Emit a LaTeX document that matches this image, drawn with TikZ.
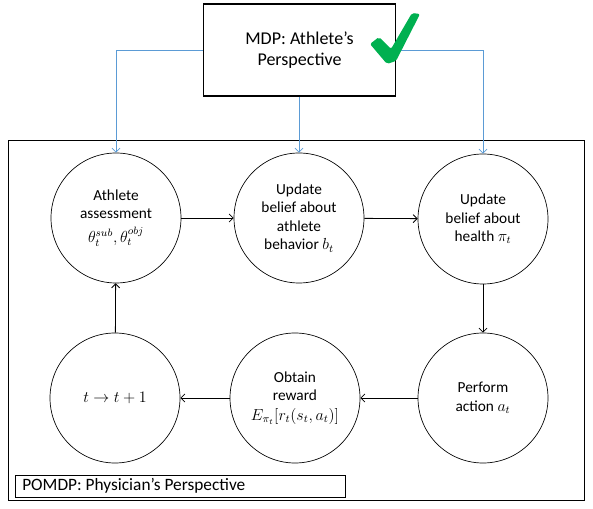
\documentclass[tikz,border=0pt]{standalone}
\usepackage{fontspec}
\setmainfont{Carlito}
\usetikzlibrary{arrows.meta}
\definecolor{bluel}{HTML}{5B9BD5}
\definecolor{checkg}{HTML}{00B050}
\begin{document}
\begin{tikzpicture}[x=0.75pt,y=-0.75pt,
  stage/.style={draw,circle,minimum size=97.5pt,inner sep=0pt,align=center,line width=0.5pt,
    font=\fontsize{11.5}{13.8}\selectfont},
  flow/.style={-{Straight Barb[length=3pt,width=6pt]},line width=0.6pt},
  mdpflow/.style={-{Straight Barb[length=3pt,width=6pt]},draw=bluel,line width=0.6pt}]
\useasboundingbox (0,0) rectangle (593,509);
\node[draw,line width=0.8pt,minimum width=144pt,minimum height=69pt,inner sep=0pt,align=center,
  font=\fontsize{13.5}{16.3}\selectfont] (mdp) at (299.5,50) {MDP: Athlete’s\\Perspective};
\node[draw,line width=0.6pt,minimum width=432pt,minimum height=270pt,inner sep=0pt] (frame) at (296,320) {};
\node[draw,line width=0.6pt,minimum width=247.5pt,minimum height=16.5pt,inner sep=0pt,anchor=north west] (pomdp) at (15,475) {};
\node[anchor=west,font=\fontsize{13}{15}\selectfont,inner sep=0pt] (pomdptext) at (22,486) {POMDP: Physician’s Perspective};
\node[stage] (assess) at (116,218) {Athlete\\assessment\\[4pt]$\theta_t^{sub},\theta_t^{obj}$};
\node[stage] (behav) at (299,218) {Update\\belief about\\athlete\\behavior $b_t$};
\node[stage] (health) at (483,219) {Update\\belief about\\health $\pi_t$};
\node[stage] (act) at (483,398) {Perform\\action $a_t$};
\node[stage] (reward) at (295,398) {Obtain\\reward\\[1pt]$E_{\pi_t}[r_t(s_t,a_t)]$};
\node[stage] (tick) at (115,398) {$t\rightarrow t+1$};
\draw[flow] (assess) -- (behav);
\draw[flow] (behav) -- (health);
\draw[flow] (health) -- (act);
\draw[flow] (act) -- (reward);
\draw[flow] (reward) -- (tick);
\draw[flow] (tick) -- (assess);
\draw[mdpflow] (mdp.west |- 0,50) -| (assess.north);
\draw[mdpflow] (mdp.south -| behav.north) -- (behav.north);
\draw[mdpflow] (mdp.east |- 0,50) -| (health.north);
\fill[checkg,rounded corners=1.5pt] (370,44) -- (379,37) -- (391,49) -- (412,13) -- (420,14)
  -- (396,61) -- (387,64) -- cycle;
\end{tikzpicture}
\end{document}
